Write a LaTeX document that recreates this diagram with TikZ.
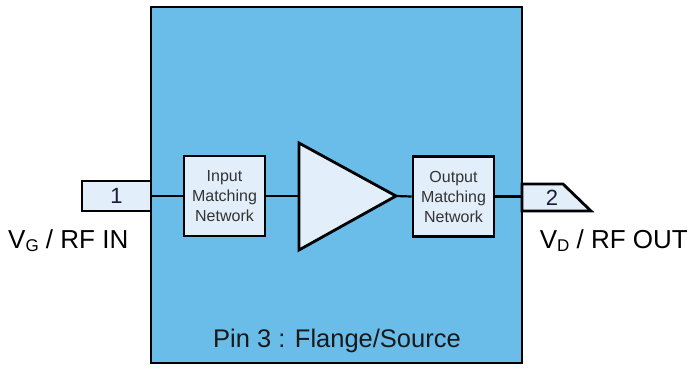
\documentclass[tikz,border=0pt]{standalone}
\usepackage{fontspec}
\setmainfont{Liberation Sans}
\definecolor{flange}{HTML}{6BBDE9}
\definecolor{lightfill}{HTML}{E2EEF9}
\definecolor{txtgray}{HTML}{333333}
\definecolor{pinnum}{HTML}{1A1A3A}
\begin{document}
\begin{tikzpicture}[x=1pt,y=-1pt,
  mnbox/.style={draw=black,line width=2.8pt,fill=lightfill,minimum width=81pt,minimum height=80pt,inner sep=0pt,align=center,text=txtgray,font=\fontsize{16}{20}\selectfont},
  wire/.style={draw=black,line width=2.2pt},
  pinshape/.style={draw=black,line width=2.8pt,fill=lightfill},
  lbl/.style={inner sep=0pt,font=\fontsize{26}{26}\selectfont,text=black}]
\useasboundingbox (0,0) rectangle (689,368);
\node[draw=black,line width=2.8pt,fill=flange,minimum width=371pt,minimum height=356pt,inner sep=0pt] (flange) at (336.5,185) {};
\node[inner sep=0pt,font=\fontsize{25.5}{26}\selectfont,text=black!90] (pin3) at (337,341) {Pin 3 : Flange/Source};
% pin 1
\node[pinshape,minimum width=69pt,minimum height=30pt,inner sep=0pt,font=\fontsize{22}{22}\selectfont,text=pinnum] (p1) at (116.5,196) {1};
% pin 2
\coordinate (p2a) at (522,184);
\coordinate (p2b) at (563,184);
\coordinate (p2c) at (591,211);
\coordinate (p2d) at (522,211);
\draw[pinshape,line join=miter] (p2a) -- (p2b) -- (p2c) -- (p2d) -- cycle;
\node[inner sep=0pt,font=\fontsize{22}{22}\selectfont,text=pinnum] (p2) at (552,198) {2};
% matching networks
\node[mnbox] (imn) at (224.5,196) {Input\\Matching\\Network};
\node[mnbox] (omn) at (453.5,196.5) {Output\\Matching\\Network};
% amplifier
\coordinate (ta) at (299,143);
\coordinate (tb) at (299,250);
\coordinate (tip) at (396,196);
\coordinate (tin) at (299,196);
\draw[line width=2.8pt,fill=lightfill,line join=miter] (ta) -- (tip) -- (tb) -- cycle;
% wires
\coordinate (fl) at (151,196);
\coordinate (fr) at (522,196.5);
\draw[wire] (fl) -- (imn.west);
\draw[wire] (imn.east) -- (tin);
\draw[wire] (tip) -- (omn.west);
\draw[wire] (omn.east) -- (fr);
% labels
\node[lbl,anchor=base west] (vg) at (8,248) {V\raisebox{-0.25ex}{\fontsize{17}{17}\selectfont G} / RF IN};
\node[lbl,anchor=base east] (vd) at (688,248) {V\raisebox{-0.25ex}{\fontsize{17}{17}\selectfont D} / RF OUT};
\end{tikzpicture}
\end{document}
